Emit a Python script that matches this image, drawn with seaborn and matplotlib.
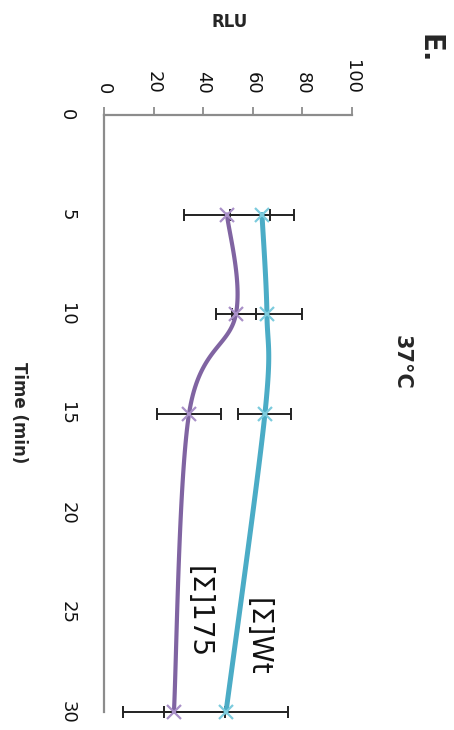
import numpy as np
import pandas as pd
import matplotlib
matplotlib.use("Agg")
import matplotlib.pyplot as plt
import seaborn as sns

# Luminescence time course at 37°C
time_min = [5, 10, 15, 30]
rlu_wt = [63.7, 65.7, 64.9, 49.2]
err_wt = [12.9, 14.1, 10.7, 25.0]
rlu_175 = [49.6, 53.2, 34.3, 28.2]
err_175 = [17.5, 8.1, 12.9, 20.6]

series_names = ["[Σ]Wt", "[Σ]175"]
line_colors = ["#4BACC6", "#8064A2"]
marker_colors = ["#7CCBDD", "#A990C8"]

time_ticks = [0, 5, 10, 15, 20, 25, 30]
rlu_ticks = [0, 20, 40, 60, 80, 100]

W, H = 454, 730
sns.set_theme(style="white")
plt.rcParams["font.family"] = ["DejaVu Sans"]

fig = plt.figure(figsize=(W / 100, H / 100), dpi=100)
ax = fig.add_axes([104 / W, 1 - 712 / H, (352 - 104) / W, (712 - 115) / H])


def smooth_curve(t, v, sx, sy, n=40):
    """Bezier smoothing of a polyline (cardinal spline, tension 1/6) in screen scale."""
    p = np.column_stack([np.asarray(t, float) * sx, np.asarray(v, float) * sy])
    ext = np.vstack([p[0], p, p[-1]])
    pts = []
    for i in range(len(p) - 1):
        p0, p1, p2, p3 = ext[i], ext[i + 1], ext[i + 2], ext[i + 3]
        c1 = p1 + (p2 - p0) / 6
        c2 = p2 - (p3 - p1) / 6
        s = np.linspace(0, 1, n)[:, None]
        seg = ((1 - s) ** 3) * p1 + 3 * ((1 - s) ** 2) * s * c1 + 3 * (1 - s) * s ** 2 * c2 + s ** 3 * p2
        pts.append(seg if i == 0 else seg[1:])
    pts = np.vstack(pts)
    return pts[:, 0] / sx, pts[:, 1] / sy


sx, sy = 597 / 30, 248 / 100
for name, vals, errs, lc, mc, lw in [
    (series_names[0], rlu_wt, err_wt, line_colors[0], marker_colors[0], 3.6),
    (series_names[1], rlu_175, err_175, line_colors[1], marker_colors[1], 3.0),
]:
    ts, vs = smooth_curve(time_min, vals, sx, sy)
    curve = pd.DataFrame({"time": ts, "rlu": vs})
    sns.lineplot(data=curve, x="rlu", y="time", sort=False, orient="y",
                 color=lc, linewidth=lw, ax=ax, zorder=3)
    ax.errorbar(vals, time_min, xerr=errs, fmt="none", ecolor="#222222",
                elinewidth=1.4, capsize=4, capthick=1.4, zorder=2, clip_on=False)
    ax.plot(vals, time_min, linestyle="none", marker="x", markersize=10,
            markeredgewidth=1.6, color=mc, zorder=4, clip_on=False)

for line in ax.lines:
    line.set_clip_on(False)

ax.set_xlim(0, 100)
ax.set_ylim(30, 0)
ax.set_xticks(rlu_ticks)
ax.set_yticks(time_ticks)
ax.xaxis.tick_top()
ax.set_xticklabels([str(v) for v in rlu_ticks], rotation=-90, fontsize=13, color="#111111")
ax.set_yticklabels([str(v) for v in time_ticks], rotation=-90, fontsize=13, color="#111111",
                   va="center")
ax.tick_params(axis="x", direction="out", length=6, width=1.3, color="#8c8c8c", pad=9)
ax.tick_params(axis="y", direction="out", length=6, width=1.3, color="#8c8c8c", pad=14)
for side in ["right", "bottom"]:
    ax.spines[side].set_visible(False)
for side in ["top", "left"]:
    ax.spines[side].set_color("#8c8c8c")
    ax.spines[side].set_linewidth(1.6)
ax.set_xlabel("")
ax.set_ylabel("")
ax.grid(False)

# Series labels placed beside each curve
ax.text(62.0, 26.2, series_names[0], rotation=-90, fontsize=20, ha="center", va="center",
        color="#111111")
ax.text(38.3, 25.0, series_names[1], rotation=-90, fontsize=20, ha="center", va="center",
        color="#111111")

# Titles and panel letter
fig.text(230 / W, 1 - 22 / H, "RLU", fontsize=12, fontweight="bold", ha="center", va="center")
fig.text(19 / W, 1 - 413 / H, "Time (min)", fontsize=12, fontweight="bold", rotation=-90,
         ha="center", va="center")
fig.text(402 / W, 1 - 362 / H, "37°C", fontsize=15, fontweight="bold", rotation=-90,
         ha="center", va="center")
fig.text(430 / W, 1 - 49 / H, "E.", fontsize=20, fontweight="bold", rotation=-90,
         ha="center", va="center")

fig.savefig("out.png", dpi=100)
